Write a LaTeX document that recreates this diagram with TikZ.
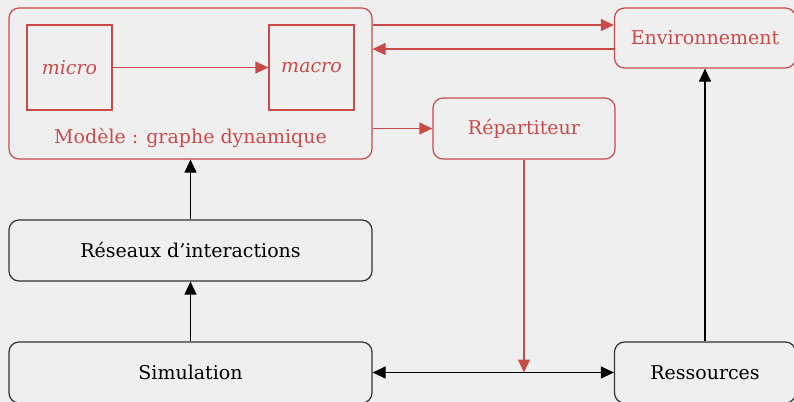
\documentclass[tikz,border=0pt]{standalone}
\usepackage{fontspec}
\setmainfont{DejaVu Serif}
\usetikzlibrary{arrows.meta}

\definecolor{fondgris}{HTML}{EFEFEF}
\definecolor{rouge}{HTML}{C84B4B}
\definecolor{trait}{HTML}{333333}

\tikzset{
  boite/.style={draw=trait,line width=0.6pt,rounded corners=5pt,align=center,
    font=\fontsize{9.5}{11}\selectfont},
  boiterouge/.style={boite,draw=rouge,text=rouge},
  carre/.style={draw=rouge,line width=0.6pt,text=rouge,minimum width=42.5pt,
    minimum height=42.5pt,font=\fontsize{9.5}{11}\selectfont\itshape},
  pointe/.tip={Triangle[length=6.5pt,width=6pt]},
  fleche/.style={-pointe,line width=0.6pt,black},
  flecherouge/.style={fleche,rouge}
}

\begin{document}
\begin{tikzpicture}[x=0.5pt,y=-0.5pt]
      \fill[fondgris] (0,0) rectangle (794,402);
      \useasboundingbox (0,0) rectangle (794,402);
      % bloc du modele
      \node[boiterouge,minimum width=181.5pt,minimum height=75.5pt] (modele) at (190.5,83.5) {};
      \node[carre] (micro) at (69.5,67.5) {micro};
      \node[carre] (macro) at (311.5,67.5) {macro};
      \node[text=rouge,font=\fontsize{9.5}{11}\selectfont] (titre) at (190.5,138) {Modèle : graphe dynamique};
      \draw[flecherouge] (micro) -- (macro);
      % autres blocs
      \node[boiterouge,minimum width=90.5pt,minimum height=30pt] (env) at (705,38) {Environnement};
      \node[boiterouge,minimum width=91pt,minimum height=30.5pt] (rep) at (524,128.5) {Répartiteur};
      \node[boite,minimum width=181.5pt,minimum height=30.5pt] (reseaux) at (190.5,250.5) {Réseaux d’interactions};
      \node[boite,minimum width=181.5pt,minimum height=30.5pt] (sim) at (190.5,372.5) {Simulation};
      \node[boite,minimum width=90.5pt,minimum height=30.5pt] (res) at (705,372.5) {Ressources};
      % liaisons
      \draw[flecherouge] (modele.east |- 0,25) -- (env.west |- 0,25);
      \draw[flecherouge] (env.west |- 0,49) -- (modele.east |- 0,49);
      \draw[flecherouge] (modele.east |- rep.west) -- (rep.west);
      \draw[flecherouge] (rep.south) -- (rep.south |- sim.east);
      \draw[fleche] (reseaux.north) -- (modele.south);
      \draw[fleche] (sim.north) -- (reseaux.south);
      \draw[fleche,pointe-pointe] (sim.east) -- (res.west);
      \draw[fleche] (res.north) -- (env.south);
    \end{tikzpicture}
\end{document}
